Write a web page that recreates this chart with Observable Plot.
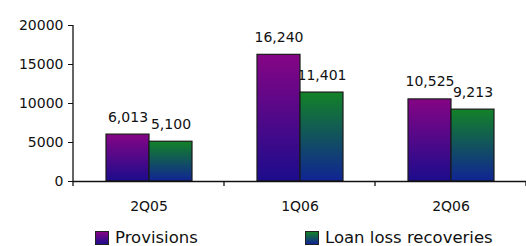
<!DOCTYPE html>
<html><head><meta charset="utf-8">
<script src="https://cdn.jsdelivr.net/npm/d3@7"></script>
<script src="https://cdn.jsdelivr.net/npm/@observablehq/plot@0.6"></script>
<style>
body{margin:0;background:#fff;font-family:"DejaVu Sans",sans-serif;}
#chart svg{display:block;}
#legend{position:relative;height:24px;width:526px;font-size:16.5px;color:#111;}
.item{position:absolute;top:6px;display:flex;align-items:center;white-space:nowrap;}
.sw{width:12px;height:12px;border:1px solid #222;margin-right:6px;}
</style></head><body>
<div id="chart"></div>
<div id="legend"></div>
<script>
const quarters = ["2Q05", "1Q06", "2Q06"];
const seriesNames = ["Provisions", "Loan loss recoveries"];
const provisions = [6013, 16240, 10525];
const recoveries = [5100, 11401, 9213];
const yTicks = [0, 5000, 10000, 15000, 20000];
const gradTop = ["#850585", "#138227"];
const gradBottom = ["#1c0c8c", "#102494"];

const data = quarters.flatMap((q, i) => [
  {quarter: q, series: seriesNames[0], value: provisions[i]},
  {quarter: q, series: seriesNames[1], value: recoveries[i]}
]);
const fmt = d3.format(",");
const gradIds = ["gProv", "gRec"];

const chart = Plot.plot({
  width: 526, height: 222,
  marginLeft: 73, marginRight: 0, marginTop: 25, marginBottom: 41,
  style: {fontFamily: "DejaVu Sans, sans-serif", fontSize: "14px", color: "#111", background: "#fff"},
  fx: {domain: quarters, padding: 0, label: null},
  x: {domain: seriesNames, paddingInner: 0, paddingOuter: 0.74, axis: null},
  y: {domain: [0, 20000], label: null},
  color: {domain: seriesNames, range: gradIds.map(id => `url(#${id})`)},
  marks: [
    Plot.axisY({ticks: yTicks, tickSize: 5, tickPadding: 5, tickFormat: d => String(d), fontSize: 14, label: null}),
    Plot.axisFx({anchor: "bottom", tickSize: 0, tickPadding: 20, fontSize: 14, label: null}),
    Plot.text(data, {fx: "quarter", x: "series", y: "value", text: d => fmt(d.value), lineAnchor: "bottom", dy: -13, fontSize: 14, fill: "#111"}),
    Plot.barY(data, {fx: "quarter", x: "series", y: "value", fill: "series", stroke: "#1a1a1a", strokeWidth: 1.2}),
    Plot.ruleY([0], {stroke: "#111", strokeWidth: 1.3})
  ]
});

const svg = d3.select(chart);
const defs = svg.insert("defs", ":first-child");
gradIds.forEach((id, i) => {
  const g = defs.append("linearGradient").attr("id", id).attr("x1", 0).attr("y1", 0).attr("x2", 0).attr("y2", 1);
  g.append("stop").attr("offset", "0%").attr("stop-color", gradTop[i]);
  g.append("stop").attr("offset", "100%").attr("stop-color", gradBottom[i]);
});
// axis lines using the chart's scales
const fx = chart.scale("fx"), y = chart.scale("y");
const y0 = y.apply(0), yTop = y.apply(20000);
const x0 = fx.apply(quarters[0]);
svg.append("line").attr("x1", x0).attr("x2", x0).attr("y1", yTop).attr("y2", y0 + 5)
  .attr("stroke", "#111").attr("stroke-width", 1.3);
quarters.forEach(q => {
  const xe = fx.apply(q) + fx.bandwidth;
  svg.append("line").attr("x1", xe).attr("x2", xe).attr("y1", y0).attr("y2", y0 + 5)
    .attr("stroke", "#111").attr("stroke-width", 1.3);
});
document.getElementById("chart").appendChild(chart);

// legend
const legend = d3.select("#legend");
const legendX = [95, 305];
seriesNames.forEach((s, i) => {
  const it = legend.append("div").attr("class", "item").style("left", legendX[i] + "px");
  it.append("div").attr("class", "sw").style("background", `linear-gradient(${gradTop[i]}, ${gradBottom[i]})`);
  it.append("span").text(s);
});
</script>
</body></html>
